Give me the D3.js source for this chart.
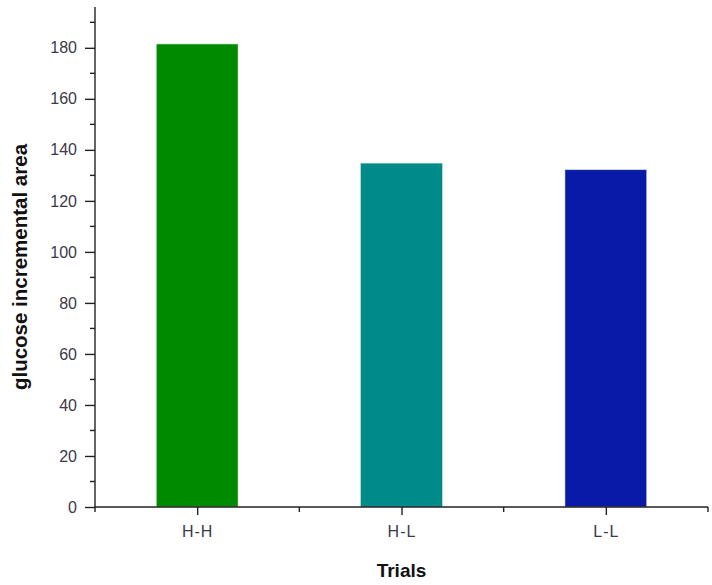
<!DOCTYPE html>
<html>
<head>
<meta charset="utf-8">
<script src="https://cdn.jsdelivr.net/npm/d3@7"></script>
<style>
  body { margin: 0; background: #fff; }
  text { font-family: Arial, "Liberation Sans", sans-serif; }
</style>
</head>
<body>
<div id="chart"></div>
<script>
// data
const trials = ["H-H", "H-L", "L-L"];
const areas = [181.5, 134.8, 132.2];
const colors = ["#008a00", "#008b8b", "#0a1aa8"];
const yTicks = [0, 20, 40, 60, 80, 100, 120, 140, 160, 180];

const width = 712;
const height = 585;
const margin = { top: 7, right: 4, bottom: 78, left: 95 };

const svg = d3.select("#chart").append("svg")
    .attr("width", width)
    .attr("height", height);

const plotW = width - margin.left - margin.right;
const plotH = height - margin.top - margin.bottom;

const g = svg.append("g")
    .attr("transform", "translate(" + margin.left + "," + margin.top + ")");

// x is positional: category i sits at i+1, axis spans 0.5..3.5
const xScale = d3.scaleLinear().domain([0.5, 3.5]).range([0, plotW]);
const yScale = d3.scaleLinear().domain([0, 196]).range([plotH, 0]);

const barW = 0.4;

g.selectAll("rect.bar")
    .data(areas)
    .enter()
    .append("rect")
    .attr("class", "bar")
    .attr("x", (d, i) => xScale(i + 1 - barW / 2))
    .attr("width", xScale(1 + barW / 2) - xScale(1 - barW / 2))
    .attr("y", d => yScale(d))
    .attr("height", d => yScale(0) - yScale(d))
    .attr("fill", (d, i) => colors[i])
    .attr("stroke", "#c8d8c8")
    .attr("stroke-width", 0.6);

// y axis with minor ticks
const yaxis = d3.axisLeft(yScale).tickValues(yTicks).tickSize(10).tickPadding(8);
const yAx = g.append("g").call(yaxis);
yAx.select(".domain").attr("d", "M0," + plotH + "V0");

const minorY = d3.range(10, 196, 20);
g.append("g").selectAll("line")
    .data(minorY)
    .enter()
    .append("line")
    .attr("x1", -5).attr("x2", 0)
    .attr("y1", d => yScale(d)).attr("y2", d => yScale(d));

// x axis
const xaxis = d3.axisBottom(xScale)
    .tickValues([1, 2, 3])
    .tickFormat((d) => trials[d - 1])
    .tickSize(8).tickPadding(11);
const xAx = g.append("g")
    .attr("transform", "translate(0," + plotH + ")")
    .call(xaxis);
xAx.select(".domain").attr("d", "M0,0H" + plotW);
xAx.selectAll(".tick text").attr("letter-spacing", 1);

g.append("g")
    .attr("transform", "translate(0," + plotH + ")")
    .selectAll("line")
    .data([0.5, 1.5, 2.5, 3.5])
    .enter()
    .append("line")
    .attr("x1", d => xScale(d)).attr("x2", d => xScale(d))
    .attr("y1", 0).attr("y2", 5);

svg.selectAll(".tick text")
    .attr("font-size", 16)
    .attr("fill", "#3a3a4a");
svg.selectAll(".domain, .tick line")
    .attr("stroke", "#222")
    .attr("stroke-width", 1.4);
svg.selectAll("g > g > line")
    .attr("stroke", "#222")
    .attr("stroke-width", 1.4);

// axis titles
svg.append("text")
    .attr("transform", "translate(27,267) rotate(-90)")
    .attr("text-anchor", "middle")
    .attr("font-size", 20.5)
    .attr("font-weight", "bold")
    .attr("fill", "#111")
    .text("glucose incremental area");

svg.append("text")
    .attr("x", margin.left + xScale(2))
    .attr("y", 577)
    .attr("text-anchor", "middle")
    .attr("font-size", 19)
    .attr("font-weight", "bold")
    .attr("fill", "#111")
    .text("Trials");
</script>
</body>
</html>
